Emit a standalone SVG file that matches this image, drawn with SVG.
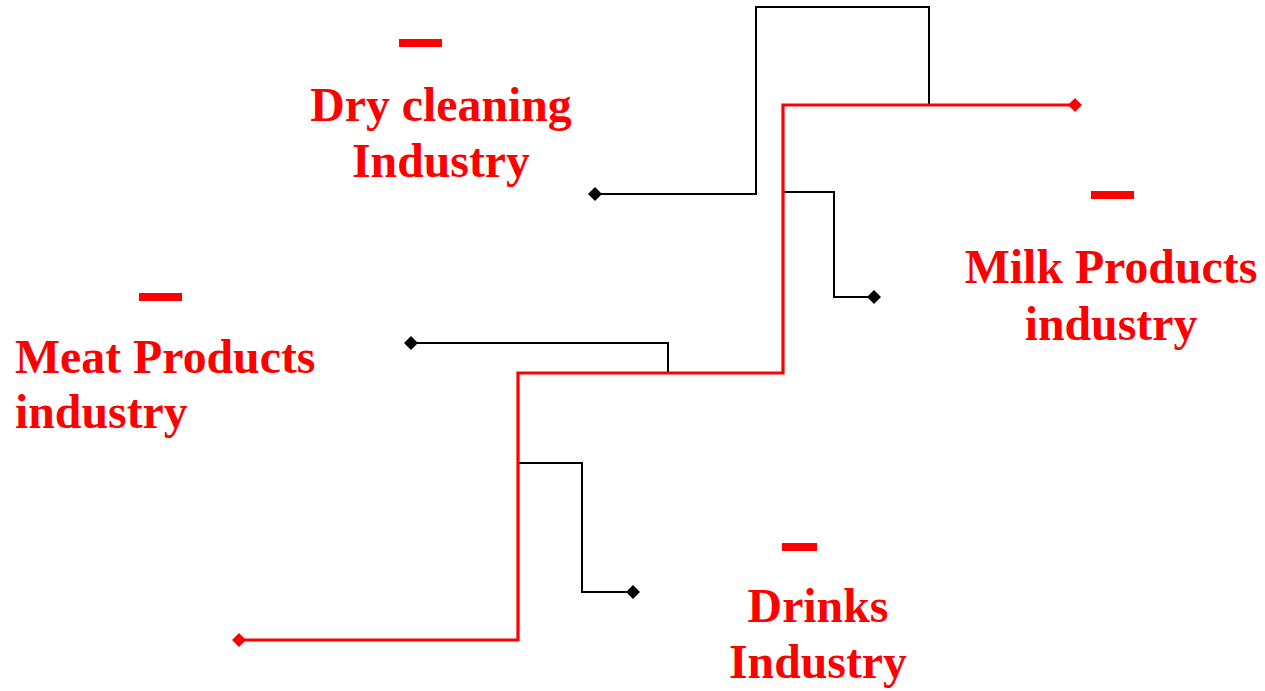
<svg xmlns="http://www.w3.org/2000/svg" width="1265" height="691" viewBox="0 0 1265 691">
<defs>
<style>
.lbl{font-family:"Liberation Serif","Times New Roman",serif;font-weight:bold;font-size:47.8px;fill:#ff0000}
.dash{fill:#ff0000}
.blk{fill:none;stroke:#000;stroke-width:2}
.red{fill:none;stroke:#ff0000;stroke-width:3.2}
.dk{fill:#000}
.dr{fill:#ff0000}
</style>
</defs>
<rect width="1265" height="691" fill="#fff"/>
<g id="connectors">
<polyline class="blk" points="595,194 756,194 756,7 929,7 929,105"/>
<polyline class="blk" points="783,192 834,192 834,297 874,297"/>
<polyline class="blk" points="411,343 668,343 668,373"/>
<polyline class="blk" points="518,463 582,463 582,592 633,592"/>
<polyline class="red" points="239,640 518,640 518,373 783,373 783,105 1075,105"/>
<path class="dk" d="M595,187 L602,194 L595,201 L588,194 Z"/>
<path class="dk" d="M874,290 L881,297 L874,304 L867,297 Z"/>
<path class="dk" d="M411,336 L418,343 L411,350 L404,343 Z"/>
<path class="dk" d="M633,585 L640,592 L633,599 L626,592 Z"/>
<path class="dr" d="M239,633 L246,640 L239,647 L232,640 Z"/>
<path class="dr" d="M1075,98 L1082,105 L1075,112 L1068,105 Z"/>
</g>
<g id="dry-cleaning">
<rect class="dash" x="399" y="39" width="43" height="8"/>
<text class="lbl" x="441" y="121" text-anchor="middle">Dry cleaning</text>
<text class="lbl" x="441" y="177" text-anchor="middle">Industry</text>
</g>
<g id="meat-products">
<rect class="dash" x="139" y="293" width="43" height="8"/>
<text class="lbl" x="15" y="373">Meat Products</text>
<text class="lbl" x="15" y="428">industry</text>
</g>
<g id="milk-products">
<rect class="dash" x="1091" y="191" width="43" height="8"/>
<text class="lbl" x="1111" y="283" text-anchor="middle">Milk Products</text>
<text class="lbl" x="1111" y="340" text-anchor="middle">industry</text>
</g>
<g id="drinks">
<rect class="dash" x="782" y="543" width="35" height="8"/>
<text class="lbl" x="818" y="622" text-anchor="middle">Drinks</text>
<text class="lbl" x="818" y="678" text-anchor="middle">Industry</text>
</g>
</svg>
